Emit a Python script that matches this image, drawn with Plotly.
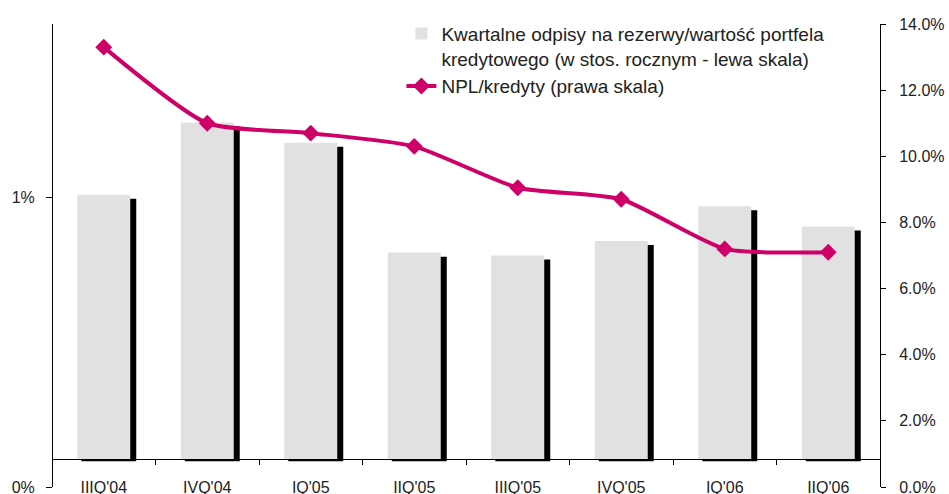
import plotly.graph_objects as go

# quarters on the category axis
quarters = ["IIIQ'04", "IVQ'04", "IQ'05", "IIQ'05", "IIIQ'05", "IVQ'05", "IQ'06", "IIQ'06"]
# quarterly provisions / loan portfolio, annualised (left scale, %)
provisions = [1.01, 1.26, 1.19, 0.81, 0.80, 0.85, 0.97, 0.90]
# NPL / loans (right scale, %)
npl = [13.3, 11.0, 10.7, 10.3, 9.05, 8.7, 7.2, 7.1]

bar_name = 'Kwartalne odpisy na rezerwy/wartość portfela<br>kredytowego (w stos. rocznym - lewa skala)'
line_name = 'NPL/kredyty (prawa skala)'

# style bits - the bars sit on a baseline a bit above 0 and carry a black drop shadow
BASE = 0.0965
SHADOW_BASE = 0.089
SHADOW_DROP = 0.014
BASE_POS = 0.0605   # paper y of the category line
FONT = 'Liberation Sans'
TXT = '#222222'
PINK = '#CE0068'

fig = go.Figure()

# shadow first so the grey bar is drawn over it
fig.add_trace(go.Bar(
    x=quarters,
    y=[v - SHADOW_DROP - SHADOW_BASE for v in provisions],
    base=SHADOW_BASE,
    width=0.531, offset=-0.217,
    marker=dict(color='black', line=dict(width=0)),
    showlegend=False, hoverinfo='skip'))
fig.add_trace(go.Bar(
    x=quarters,
    y=[v - BASE for v in provisions],
    base=BASE,
    width=0.512, offset=-0.256,
    marker=dict(color='#E1E1E1', line=dict(width=0)),
    name=bar_name))
fig.add_trace(go.Scatter(
    x=quarters, y=npl, yaxis='y2',
    mode='lines+markers',
    line=dict(color=PINK, width=4, shape='spline', smoothing=0.6),
    marker=dict(symbol='diamond', size=13, color=PINK),
    name=line_name))

tickfont = dict(family=FONT, size=16, color=TXT)
fig.update_layout(
    width=949, height=494,
    margin=dict(l=52, r=69, t=24, b=7, autoexpand=False),
    paper_bgcolor='white', plot_bgcolor='white',
    barmode='overlay',
    font=dict(family=FONT, color=TXT),
    xaxis=dict(type='category', categoryarray=quarters, range=[-0.5, 7.5],
               anchor='free', position=BASE_POS, automargin=False,
               showline=True, linecolor='black', linewidth=1,
               ticks='outside', ticklen=5, tickcolor='black', tickson='boundaries',
               ticklabelstandoff=14, ticklabeloverflow='allow',
               showgrid=False, zeroline=False, tickfont=tickfont),
    # second copy of the category line, only for the upward half of the ticks
    xaxis2=dict(overlaying='x', type='linear', range=[-0.5, 7.5],
                tickvals=[i + 0.5 for i in range(len(quarters) - 1)],
                anchor='free', position=BASE_POS, automargin=False,
                ticks='inside', ticklen=5, tickcolor='black',
                showticklabels=False, showline=False, showgrid=False, zeroline=False),
    yaxis=dict(range=[0, 1.6], tickvals=[0, 1], ticktext=['0%', '1%'],
               anchor='free', position=0, automargin=False,
               showline=True, linecolor='black', linewidth=1,
               ticks='outside', ticklen=6, tickcolor='black',
               ticklabelstandoff=8, ticklabeloverflow='allow',
               showgrid=False, zeroline=False, tickfont=tickfont),
    yaxis2=dict(range=[0, 14], dtick=2, tickformat='.1f', ticksuffix='%',
                overlaying='y', side='right', anchor='free', position=1, automargin=False,
                showline=True, linecolor='black', linewidth=1,
                ticks='outside', ticklen=5, tickcolor='black',
                ticklabelstandoff=10, ticklabeloverflow='allow',
                showgrid=False, zeroline=False, tickfont=tickfont),
    yaxis3=dict(range=[0, 1.6], tickvals=[0, 1], overlaying='y', side='left',
                anchor='free', position=0, automargin=False,
                ticks='inside', ticklen=6, tickcolor='black',
                showticklabels=False, showline=False, showgrid=False, zeroline=False),
    yaxis4=dict(range=[0, 14], dtick=2, overlaying='y', side='right',
                anchor='free', position=1, automargin=False,
                ticks='inside', ticklen=5, tickcolor='black',
                showticklabels=False, showline=False, showgrid=False, zeroline=False),
    legend=dict(x=0.422, y=1.02, xanchor='left', yanchor='top',
                valign='top', bgcolor='rgba(0,0,0,0)',
                font=dict(family=FONT, size=19, color=TXT),
                tracegroupgap=2),
    showlegend=True,
)

# page body has a default 8px margin, drop it so the figure fills the window exactly
fig.write_html("out.html", config={'displayModeBar': False},
               post_script="document.body.style.margin='0px';")
